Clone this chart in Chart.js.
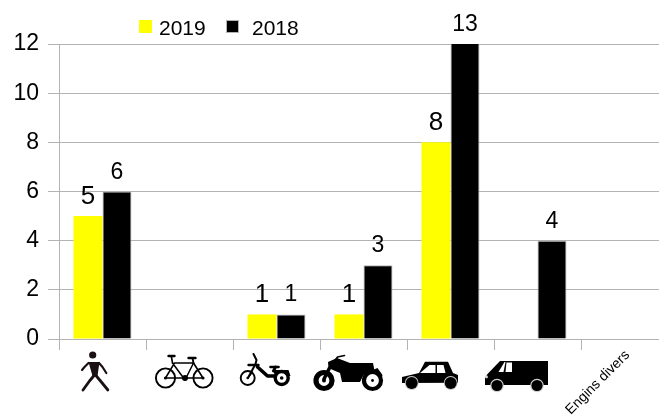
<!DOCTYPE html>
<html><head><meta charset="utf-8">
<script src="https://cdn.jsdelivr.net/npm/chart.js@4"></script>
<style>html,body{margin:0;padding:0;background:#fff;overflow:hidden;width:659px;height:419px}canvas{display:block}</style>
</head><body><canvas id="c" width="690" height="419"></canvas>
<script>
const categories = ["Piétons","Vélos","Cyclomoteurs","Motos","Voitures","Utilitaires","Engins divers"];
const seriesNames = ["2019","2018"];
const values2019 = [5,null,1,1,8,null,null];
const values2018 = [6,null,1,3,13,4,null];
const yMax = 12, yStep = 2;
const FONT = '"Liberation Sans", Arial, sans-serif';
const GREY = '#b3b3b3';

function disc(g,x,y,r){g.beginPath();g.arc(x,y,r,0,Math.PI*2);g.fill();}
function ring(g,x,y,r,w){g.lineWidth=w;g.beginPath();g.arc(x,y,r,0,Math.PI*2);g.stroke();}
function poly(g,pts){g.beginPath();pts.forEach((p,i)=>i?g.lineTo(p[0],p[1]):g.moveTo(p[0],p[1]));g.closePath();g.fill();}
function line(g,pts,w){g.lineWidth=w;g.beginPath();pts.forEach((p,i)=>i?g.lineTo(p[0],p[1]):g.moveTo(p[0],p[1]));g.stroke();}

const icons = [
 function walker(g){
  g.fillStyle=g.strokeStyle='#1a1014';g.lineCap='round';g.lineJoin='round';
  disc(g,-9.8,-15,3.6);
  poly(g,[[-14,-8],[-3,-8],[-5,6],[-10,6]]);
  line(g,[[-14,-7],[-18,-3],[-20.5,0]],2.2);
  line(g,[[-3.5,-7],[0,-3],[3.8,3]],2.2);
  line(g,[[-8,5],[-13,11],[-19.5,20]],2.8);
  line(g,[[-7,5],[-2,11],[5.4,20]],2.8);
 },
 function bike(g){
  g.strokeStyle=g.fillStyle='#000';g.lineCap='round';g.lineJoin='round';
  ring(g,-24,8,9.6,1.9);ring(g,13.5,8,9.6,1.9);
  disc(g,-24,8,1.6);disc(g,13.5,8,1.6);disc(g,-4.5,8,3);
  line(g,[[-17,-7],[-4.5,10],[4,-7],[-15,-7],[-24,8],[-4.5,8],[13.5,8]],1.5);
  line(g,[[-17,-7],[-18,-13]],1.6);line(g,[[4,-7],[13.5,8]],1.6);
  line(g,[[4,-7],[3,-12]],1.8);line(g,[[-21,-14],[-15,-14]],2.4);line(g,[[-1,-12],[6,-12]],2.4);
 },
 function moped(g){
  g.strokeStyle=g.fillStyle='#000';g.lineCap='round';g.lineJoin='round';
  ring(g,-28.8,8,7,1.9);disc(g,-28.8,8,1.3);line(g,[[-28.8,8],[-24,2]],1.5);
  ring(g,5.2,8,6.5,3.4);disc(g,5.2,8,1.8);
  poly(g,[[-3.5,0],[12,0],[14,6],[11,6],[8,3],[2,3],[-1,7]]);
  line(g,[[-28,7],[-21,-6],[-20,-10],[-23,-16]],2);
  line(g,[[-28,-5],[-18,-5]],2.4);
  line(g,[[-19,-3],[-9,6],[-1,6]],3.6);
  line(g,[[-6,-3],[2,-3]],2.6);
  line(g,[[-1,-3],[-3,1]],3);
 },
 function moto(g){
  g.strokeStyle=g.fillStyle='#000';g.lineCap='round';g.lineJoin='round';
  ring(g,-39.5,10.5,8,5.2);disc(g,-39.5,10.5,2);
  ring(g,9,10.5,8.5,4.2);disc(g,9,10.5,1.4);
  poly(g,[[-35.5,-8],[-26.5,-12],[-13.5,-7],[9.5,-7],[11.5,3],[0,5],[-3.5,12],[-21.5,12],[-23.5,3],[-30.5,0],[-35,-2]]);
  line(g,[[-34,-2],[-39.5,9]],3.5);
  line(g,[[-29,-9],[-26,-13],[-19,-14.5]],1.6);
  poly(g,[[2,3],[14,-2],[19,5],[18,9],[12,3]]);
 },
 function car(g){
  g.fillStyle='#000';
  poly(g,[[-48.5,13],[-48.5,7],[-31.5,3],[-25.5,-8.3],[-2.5,-8.3],[2.5,3],[7.5,5],[7.5,12.7]]);
  g.fillStyle='#fff';
  poly(g,[[-30.5,3],[-21,-5],[-15,-5],[-15,3]]);poly(g,[[-13.5,-5],[-7,-5],[-5,3],[-13.5,3]]);
  g.fillStyle='#c8c8c8';disc(g,-38.8,13,6.9);disc(g,0.2,13,6.9);
  g.fillStyle='#000';disc(g,-38.8,13,6);disc(g,0.2,13,6);
 },
 function van(g){
  g.fillStyle='#000';
  poly(g,[[-52.5,15],[-52.5,8],[-50,4],[-37.5,-9],[10.5,-9],[10.5,15]]);
  g.fillStyle='#fff';
  poly(g,[[-39,2],[-33,-8],[-32,-8],[-34,2]]);
  poly(g,[[-31,-7.5],[-25.5,-7.5],[-25.5,2],[-32,2]]);
  g.fillStyle='#ddd';disc(g,-51,7,1.4);
  g.fillStyle='#d0d0d0';disc(g,-40.5,15.5,6.8);disc(g,-0.5,15.5,6.8);
  g.fillStyle='#000';disc(g,-40.5,15.5,5.6);disc(g,-0.5,15.5,5.6);
 }
];

const iconPlugin = {id:'icons',afterDraw(chart){
  const g=chart.ctx,x=chart.scales.x;
  icons.forEach((draw,i)=>{g.save();g.translate(x.getPixelForTick(i),370);draw(g);g.restore();});
}};
const labelPlugin = {id:'valueLabels',afterDatasetsDraw(chart){
  const g=chart.ctx,y=chart.scales.y;
  g.save();g.textAlign='center';g.textBaseline='alphabetic';g.fillStyle='#000';
  chart.data.datasets.forEach((ds,d)=>{
    const meta=chart.getDatasetMeta(d);
    g.font=(d===0?26:23)+'px '+FONT;
    ds.data.forEach((v,i)=>{
      if(v===null)return;
      const top=y.getPixelForValue(Math.min(v,yMax));
      g.fillText(String(v),meta.data[i].x,top-(d===0?12:13));
    });
  });
  g.restore();
}};
const legendPlugin = {id:'topLegend',afterDraw(chart){
  const g=chart.ctx,pos=[[139,159],[226,252]];
  g.save();g.font='21px '+FONT;g.textBaseline='alphabetic';g.textAlign='left';
  chart.data.datasets.forEach((ds,d)=>{
    g.fillStyle=ds.backgroundColor;g.fillRect(pos[d][0],20,13,13);
    if(d===1){g.strokeStyle=GREY;g.lineWidth=1;g.strokeRect(pos[d][0]+.5,20.5,12,12);}
    g.fillStyle='#000';g.fillText(ds.label,pos[d][1],35);
  });
  g.restore();
}};

new Chart(document.getElementById('c'),{
  type:'bar',
  data:{labels:categories,datasets:[
    {label:seriesNames[0],data:values2019,backgroundColor:'#ffff00',borderWidth:0,barPercentage:1,categoryPercentage:2/3},
    {label:seriesNames[1],data:values2018,backgroundColor:'#000000',borderColor:GREY,borderWidth:1,barPercentage:1,categoryPercentage:2/3}
  ]},
  options:{
    responsive:false,animation:false,events:[],
    layout:{padding:{top:44,right:22,left:0,bottom:0}},
    plugins:{legend:{display:false},tooltip:{enabled:false},title:{display:false}},
    scales:{
      x:{
        afterFit(s){s.height=80;},
        grid:{drawOnChartArea:false,drawTicks:true,tickLength:11,color:GREY,tickColor:GREY,offset:true},
        border:{color:GREY,width:1},
        ticks:{autoSkip:false,minRotation:45,maxRotation:45,padding:-3,labelOffset:3,color:'#000',font:{family:FONT,size:14},
          callback(v,i){return i===categories.length-1?categories[i]:'';}}
      },
      y:{
        min:0,max:yMax,
        afterFit(s){s.width=59;},
        grid:{color:GREY,tickColor:GREY,tickLength:11},
        border:{color:GREY,width:1},
        ticks:{stepSize:yStep,padding:9,color:'#000',font:{family:FONT,size:23}}
      }
    }
  },
  plugins:[iconPlugin,labelPlugin,legendPlugin]
});
</script></body></html>
